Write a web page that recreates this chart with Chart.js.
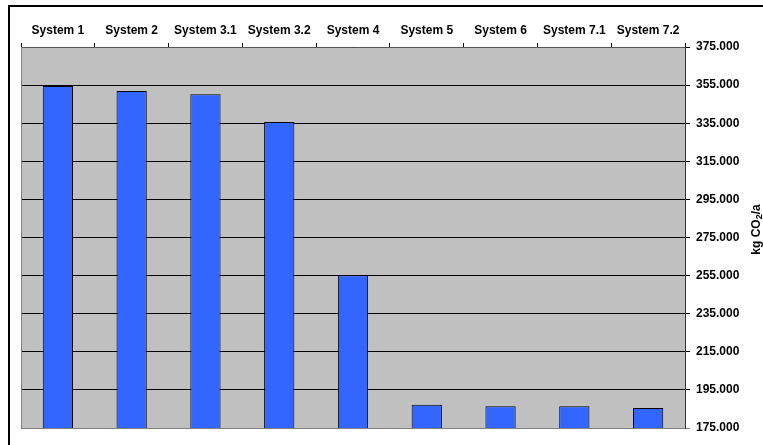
<!DOCTYPE html>
<html>
<head>
<meta charset="utf-8">
<script src="https://cdn.jsdelivr.net/npm/chart.js@4.4.1/dist/chart.umd.min.js"></script>
<style>
  html, body { margin: 0; padding: 0; background: #fff; }
  canvas { display: block; }
</style>
</head>
<body>
<canvas id="c" width="763" height="445"></canvas>
<script>
// Annual CO2 emissions per heating system variant
const categories = ['System 1', 'System 2', 'System 3.1', 'System 3.2', 'System 4', 'System 5', 'System 6', 'System 7.1', 'System 7.2'];
const emissions = [354500, 351900, 350200, 335600, 255200, 187200, 186400, 186400, 185500];
const axisMin = 175000;
const axisMax = 375000;
const axisStep = 20000;
const axisTitleMain = 'kg CO';
const axisTitleSub = '2';
const axisTitleTail = '/a';

const FONT = '"Liberation Sans", Arial, Helvetica, sans-serif';

function formatThousands(v) {
  return String(Math.round(v)).replace(/\B(?=(\d{3})+(?!\d))/g, '.');
}

// Grey plot background plus light frame on the left and bottom edges
const plotBackground = {
  id: 'plotBackground',
  beforeDraw(chart) {
    const { ctx, chartArea: a } = chart;
    ctx.save();
    ctx.fillStyle = '#c0c0c0';
    ctx.fillRect(a.left, a.top, a.right - a.left, a.bottom - a.top);
    ctx.restore();
  },
  afterDatasetsDraw(chart) {
    const { ctx, chartArea: a } = chart;
    ctx.save();
    ctx.strokeStyle = '#808080';
    ctx.lineWidth = 1;
    ctx.beginPath();
    ctx.moveTo(a.left + 0.5, a.top);
    ctx.lineTo(a.left + 0.5, a.bottom + 0.5);
    ctx.lineTo(a.right, a.bottom + 0.5);
    ctx.stroke();
    ctx.restore();
  }
};

// Outer frame and the vertical value-axis title with subscript
const decorations = {
  id: 'decorations',
  afterDraw(chart) {
    const { ctx, chartArea: a } = chart;
    ctx.save();
    ctx.fillStyle = '#000';
    ctx.fillRect(8, 5, chart.width, 2);
    ctx.fillRect(8, 5, 2, chart.height);

    const big = 'bold 12px ' + FONT;
    const small = 'bold 9px ' + FONT;
    ctx.font = big;
    const w1 = ctx.measureText(axisTitleMain).width;
    const w3 = ctx.measureText(axisTitleTail).width;
    ctx.font = small;
    const w2 = ctx.measureText(axisTitleSub).width;
    const total = w1 + w2 + w3;

    ctx.translate(757, (a.top + a.bottom) / 2 - 8);
    ctx.rotate(-Math.PI / 2);
    ctx.textBaseline = 'middle';
    ctx.textAlign = 'left';
    let x = -total / 2;
    ctx.font = big;
    ctx.fillText(axisTitleMain, x, 0);
    x += w1;
    ctx.font = small;
    ctx.fillText(axisTitleSub, x, 3);
    x += w2;
    ctx.font = big;
    ctx.fillText(axisTitleTail, x, 0);
    ctx.restore();
  }
};

new Chart(document.getElementById('c'), {
  type: 'bar',
  data: {
    labels: categories,
    datasets: [{
      data: emissions,
      backgroundColor: '#3366ff',
      borderColor: '#000000',
      borderWidth: 1,
      borderSkipped: false,
      barPercentage: 0.41,
      categoryPercentage: 1.0
    }]
  },
  options: {
    responsive: false,
    animation: false,
    devicePixelRatio: 1,
    layout: { padding: { left: 21, right: 0, top: 0, bottom: 17 } },
    plugins: {
      legend: { display: false },
      tooltip: { enabled: false },
      title: { display: false }
    },
    scales: {
      x: {
        position: 'top',
        offset: true,
        afterFit(scale) { scale.height = 47; },
        grid: {
          display: true,
          offset: true,
          drawOnChartArea: false,
          drawTicks: true,
          tickLength: 4,
          color: '#000000'
        },
        border: { display: true, color: '#555555', width: 1 },
        ticks: {
          color: '#000000',
          padding: 5,
          maxRotation: 0,
          autoSkip: false,
          font: { family: FONT, size: 12, weight: 'bold' }
        }
      },
      y: {
        position: 'right',
        min: axisMin,
        max: axisMax,
        afterFit(scale) { scale.width = 78; },
        grid: {
          drawOnChartArea: true,
          drawTicks: true,
          tickLength: 5,
          color(ctx) {
            return ctx.tick && ctx.tick.value === axisMin ? '#808080' : '#000000';
          },
          lineWidth: 1
        },
        border: { display: true, color: '#333333', width: 1 },
        ticks: {
          stepSize: axisStep,
          color: '#000000',
          padding: 6,
          font: { family: FONT, size: 12, weight: 'bold' },
          callback: (v) => formatThousands(v)
        }
      }
    }
  },
  plugins: [plotBackground, decorations]
});
</script>
</body>
</html>
